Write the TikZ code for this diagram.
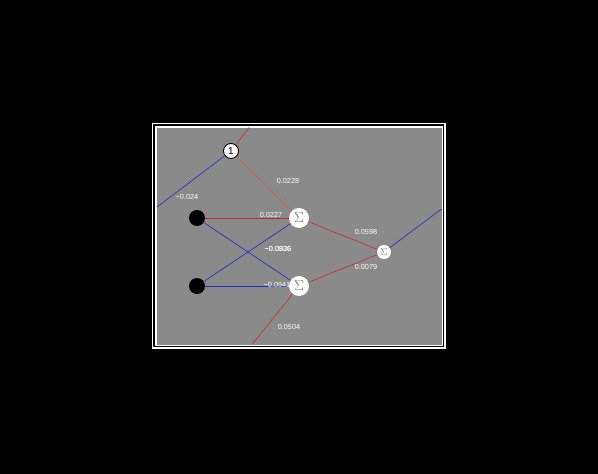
\documentclass[tikz,border=0pt]{standalone}
\usepackage{fontspec}
\setmainfont{Liberation Sans}
\definecolor{bggray}{RGB}{138,138,138}
\definecolor{wred}{RGB}{200,40,40}
\definecolor{wpink}{RGB}{205,95,95}
\definecolor{wblue}{RGB}{40,40,200}
\begin{document}
\begin{tikzpicture}[x=1pt,y=-1pt,
  lbl/.style={text=white,font=\fontsize{7.3}{8}\selectfont,inner sep=0pt},
  inputnode/.style={circle,fill=black,minimum size=16pt,inner sep=0pt},
  sumnode/.style={circle,fill=white,minimum size=20pt,inner sep=0pt,text=gray,font=\fontsize{15}{15}\selectfont},
  outnode/.style={circle,fill=white,minimum size=14pt,inner sep=0pt,text=gray,font=\fontsize{10}{10}\selectfont},
  biasnode/.style={circle,draw=black,line width=0.9pt,fill=white,minimum size=15pt,inner sep=0pt,font=\fontsize{10}{10}\selectfont},
  redw/.style={draw=wred,line width=0.6pt},
  pinkw/.style={draw=wpink,line width=0.6pt},
  bluew/.style={draw=wblue,line width=0.6pt}]
\useasboundingbox (0,0) rectangle (598,474);
\fill[black] (0,0) rectangle (598,474);
\draw[white,line width=1.2pt] (152.5,123.5) rectangle (445,348);
\fill[white] (155,126) rectangle (443,346);
\fill[bggray] (157,127.5) rectangle (441.5,344.5);
% coordinates
\coordinate (topend) at (249,127.5);
\coordinate (leftend) at (157,207);
\coordinate (botend) at (252,344.5);
\coordinate (rightend) at (441.5,209);
% nodes
\node[biasnode] (b) at (231,151) {1};
\node[inputnode] (i1) at (197,218) {};
\node[inputnode] (i2) at (197,286) {};
\node[sumnode] (s1) at (299,218) {$\Sigma$};
\node[sumnode] (s2) at (299,286) {$\Sigma$};
\node[outnode] (o) at (384,252) {$\Sigma$};
% connectors
\draw[redw] (b) -- (topend);
\draw[bluew] (b) -- (leftend);
\draw[pinkw] (b) -- (s1);
\draw[redw] (i1) -- (s1);
\draw[bluew] (i1) -- (s2);
\draw[bluew] (i2) -- (s1);
\draw[bluew] (i2) -- (s2);
\draw[redw] (s1) -- (o);
\draw[redw] (s2) -- (o);
\draw[redw] (s2) -- (botend);
\draw[bluew] (o) -- (rightend);
% labels
\node[lbl] (l1) at (187,197) {−0.024};
\node[lbl] (l2) at (288,181) {0.0228};
\node[lbl] (l3) at (271,215) {0.0227};
\node[lbl] (l4) at (278,249) {−0.0936};
\node[lbl] (l4b) at (278,249) {−0.0826};
\node[lbl] (l5) at (277,285) {−0.0941};
\node[lbl] (l6) at (366,232) {0.0598};
\node[lbl] (l7) at (366,267) {0.0079};
\node[lbl] (l8) at (289,327) {0.0504};
\end{tikzpicture}
\end{document}
